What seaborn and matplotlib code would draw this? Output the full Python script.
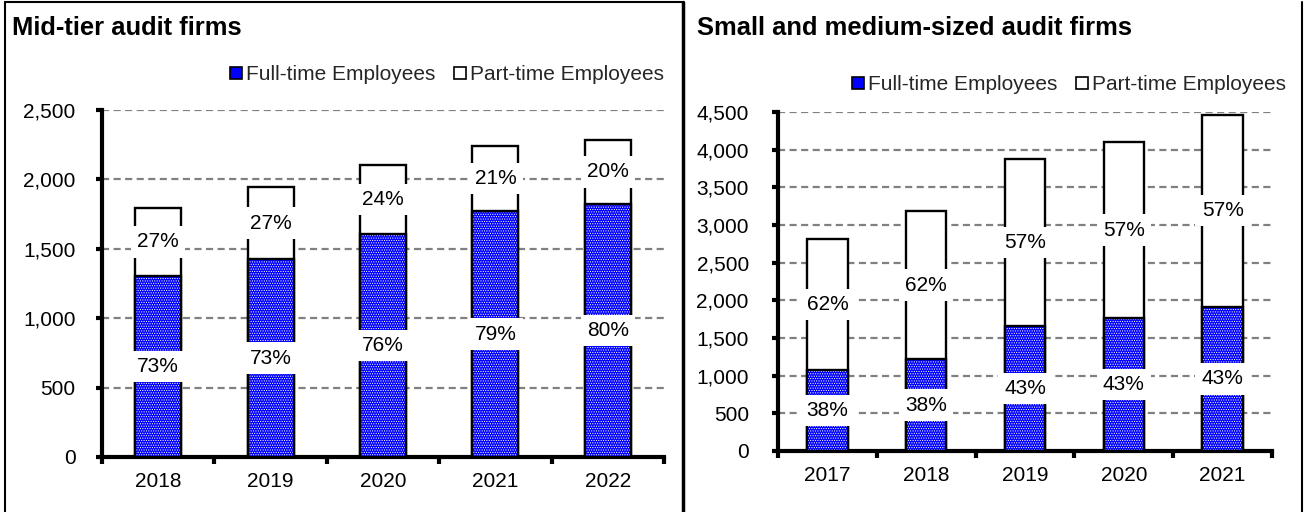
import matplotlib
matplotlib.use("Agg")
import matplotlib.pyplot as plt
from matplotlib.lines import Line2D
from matplotlib.patches import Patch
from matplotlib.ticker import StrMethodFormatter, FixedLocator, MultipleLocator
import pandas as pd
import seaborn as sns

# Mid-tier audit firms
mid_years = ["2018", "2019", "2020", "2021", "2022"]
mid_full = [1305, 1425, 1605, 1770, 1825]
mid_total = [1795, 1945, 2105, 2240, 2285]
mid_full_pct = [73, 73, 76, 79, 80]
mid_part_pct = [27, 27, 24, 21, 20]

# Small and medium-sized audit firms
sme_years = ["2017", "2018", "2019", "2020", "2021"]
sme_full = [1070, 1215, 1665, 1765, 1915]
sme_total = [2815, 3190, 3875, 4100, 4465]
sme_full_pct = [38, 38, 43, 43, 43]
sme_part_pct = [62, 62, 57, 57, 57]

legend_labels = ["Full-time Employees", "Part-time Employees"]

BLUE = "#0000FF"
BAR_W = 0.41
HATCH = "......."
FS = 15

sns.set_theme(style="white")
plt.rcParams["font.family"] = ["Liberation Sans", "DejaVu Sans"]
plt.rcParams["hatch.linewidth"] = 0.5

W, H = 1305, 512
fig = plt.figure(figsize=(W / 100, H / 100), dpi=100)
fig.patch.set_facecolor("white")


def draw_panel(ax, years, full, total, full_pct, part_pct, ymax, step, ypad):
    df = pd.DataFrame({"year": years, "full": full, "total": total})
    # whole bar (part-time share sits on top of full-time)
    sns.barplot(data=df, x="year", y="total", color="white", saturation=1,
                edgecolor="black", linewidth=1.7, width=BAR_W, ax=ax, zorder=2)
    # full-time segment with white dot texture
    sns.barplot(data=df, x="year", y="full", color=BLUE, saturation=1,
                edgecolor="white", linewidth=0, hatch=HATCH, width=BAR_W,
                ax=ax, zorder=3)
    # outline of the full-time segment
    sns.barplot(data=df, x="year", y="full", fill=False, color="black",
                linewidth=1.7, width=BAR_W, ax=ax, zorder=4)

    box = dict(boxstyle="square,pad=0.3", facecolor="white", edgecolor="none")
    for i in range(len(years)):
        ax.text(i, full[i] / 2, f"{full_pct[i]}%", ha="center", va="center",
                fontsize=FS, color="black", bbox=box, zorder=6)
        ax.text(i, (full[i] + total[i]) / 2, f"{part_pct[i]}%", ha="center",
                va="center", fontsize=FS, color="black", bbox=box, zorder=6)

    ax.set_xlim(-0.5, len(years) - 0.5)
    ax.set_ylim(0, ymax)
    ax.yaxis.set_major_locator(MultipleLocator(step))
    ax.yaxis.set_major_formatter(StrMethodFormatter("{x:,.0f}"))
    ax.set_xlabel("")
    ax.set_ylabel("")

    ax.set_axisbelow(True)
    ax.yaxis.grid(True, linestyle=(0, (3.2, 2)), color="#808080", linewidth=1.6)
    ax.xaxis.grid(False)

    for side in ("top", "right"):
        ax.spines[side].set_visible(False)
    for side in ("left", "bottom"):
        ax.spines[side].set_linewidth(3)
        ax.spines[side].set_color("black")

    ax.tick_params(axis="y", which="major", length=4, width=3, direction="out",
                   pad=ypad, labelsize=FS, color="black", left=True)
    ax.tick_params(axis="x", which="major", length=0, pad=11, labelsize=FS)
    ax.xaxis.set_minor_locator(FixedLocator([k - 0.5 for k in range(len(years) + 1)]))
    ax.tick_params(axis="x", which="minor", length=5, width=3, direction="out",
                   color="black", bottom=True)
    for lab in ax.get_xticklabels() + ax.get_yticklabels():
        lab.set_color("black")


ax1 = fig.add_axes([102 / W, 1 - 457 / H, (664 - 102) / W, (457 - 110) / H])
draw_panel(ax1, mid_years, mid_full, mid_total, mid_full_pct, mid_part_pct,
           2500, 500, ypad=15)

ax2 = fig.add_axes([778 / W, 1 - 451 / H, (1272 - 778) / W, (451 - 112) / H])
draw_panel(ax2, sme_years, sme_full, sme_total, sme_full_pct, sme_part_pct,
           4500, 500, ypad=17)

handles = [Patch(facecolor=BLUE, edgecolor="black", linewidth=1.2),
           Patch(facecolor="white", edgecolor="black", linewidth=1.2)]
leg_kw = dict(loc="center", ncol=2, frameon=False, fontsize=FS,
              handlelength=0.55, handleheight=0.55, handletextpad=0.2,
              columnspacing=0.9, borderpad=0, borderaxespad=0,
              bbox_transform=fig.transFigure)
ax1.legend(handles, legend_labels, bbox_to_anchor=(447 / W, 1 - 75 / H), **leg_kw)
ax2.legend(handles, legend_labels, bbox_to_anchor=(1069 / W, 1 - 85 / H), **leg_kw)

fig.text(12 / W, 1 - 28 / H, "Mid-tier audit firms", fontsize=18.4,
         fontweight="bold", ha="left", va="center", color="black")
fig.text(697 / W, 1 - 28 / H, "Small and medium-sized audit firms", fontsize=18.4,
         fontweight="bold", ha="left", va="center", color="black")

# panel frames
frame = dict(transform=fig.transFigure, color="black")
fig.add_artist(Line2D([4.5 / W, 4.5 / W], [0, 1 - 2 / H], linewidth=1.5, **frame))
fig.add_artist(Line2D([4.5 / W, 683 / W], [1 - 2 / H, 1 - 2 / H], linewidth=1.5, **frame))
fig.add_artist(Line2D([683 / W, 683 / W], [0, 1 - 2 / H], linewidth=2.5, **frame))
fig.add_artist(Line2D([1302 / W, 1302 / W], [0, 1 - 2 / H], linewidth=1.5, **frame))

fig.savefig("out.png", dpi=100, facecolor="white")
